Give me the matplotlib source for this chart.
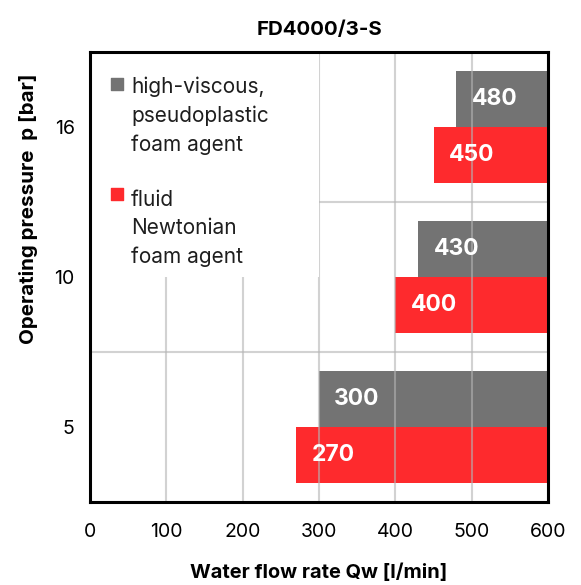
import matplotlib.pyplot as plt
import numpy as np

# data
pressures = ["5", "10", "16"]
viscous = [300, 430, 480]      # high-viscous, pseudoplastic foam agent
fluid = [270, 400, 450]        # fluid Newtonian foam agent
x_max = 600

plt.rcParams['font.family'] = ['Inter', 'DejaVu Sans']

fig = plt.figure(figsize=(5.81, 5.85), dpi=100)
ax = fig.add_axes([90 / 581, 83 / 585, 458 / 581, 450 / 585])

y = np.arange(len(pressures))
h = 0.375
grey = '#737373'
red = '#fe2a2d'

ax.barh(y + h / 2, [x_max - v for v in viscous], left=viscous, height=h,
        color=grey, zorder=2)
ax.barh(y - h / 2, [x_max - v for v in fluid], left=fluid, height=h,
        color=red, zorder=2)

for yy, v in zip(y, viscous):
    ax.text(v + 20, yy + h / 2, str(v), color='white', fontsize=16.5,
            fontweight='bold', va='center', ha='left', zorder=4)
for yy, v in zip(y, fluid):
    ax.text(v + 20, yy - h / 2, str(v), color='white', fontsize=16.5,
            fontweight='bold', va='center', ha='left', zorder=4)

ax.set_xlim(0, x_max)
ax.set_ylim(-0.5, len(pressures) - 0.5)
ax.set_xticks(np.arange(0, 601, 100))
ax.set_yticks(y)
ax.set_yticklabels(pressures)
ax.set_yticks(np.arange(-0.5, len(pressures), 0.5), minor=True)
ax.tick_params(axis='both', which='both', length=0, labelsize=14)
ax.tick_params(axis='x', pad=15)
ax.tick_params(axis='y', pad=11)
ax.grid(True, which='major', axis='x', color='#b4b4b4', lw=1.5, alpha=0.6, zorder=3)
ax.grid(True, which='minor', axis='y', color='#b4b4b4', lw=1.5, alpha=0.6, zorder=3)
ax.set_axisbelow(False)
for s in ax.spines.values():
    s.set_linewidth(2.2)
    s.set_zorder(5)

# white box behind the legend hides the grid there
ax.add_patch(plt.Rectangle((0, 0.5), 0.5, 0.5, transform=ax.transAxes,
                           facecolor='white', edgecolor='none', zorder=3.5))

ax.set_xlabel("Water flow rate Qw [l/min]", fontsize=14.4, fontweight='bold',
              labelpad=16)
ax.set_ylabel("Operating pressure  p [bar]", fontsize=14.8, fontweight='bold')
ax.yaxis.set_label_coords(-0.114, 0.652)
ax.set_title("FD4000/3-S", fontsize=14.7, fontweight='bold', pad=12)

# legend drawn as text with small squares
leg = [(grey, "high-viscous,\npseudoplastic\nfoam agent", 0.945, 0.93),
       (red, "fluid\nNewtonian\nfoam agent", 0.693, 0.684)]
for c, txt, ty, my in leg:
    ax.scatter([0.058], [my], transform=ax.transAxes, marker='s',
               s=75, color=c, zorder=6, clip_on=False)
    ax.text(0.09, ty, txt, transform=ax.transAxes, fontsize=15, va='top',
            ha='left', linespacing=1.5, color='#1e1e1e', zorder=6)

fig.savefig("out.png", dpi=100)
